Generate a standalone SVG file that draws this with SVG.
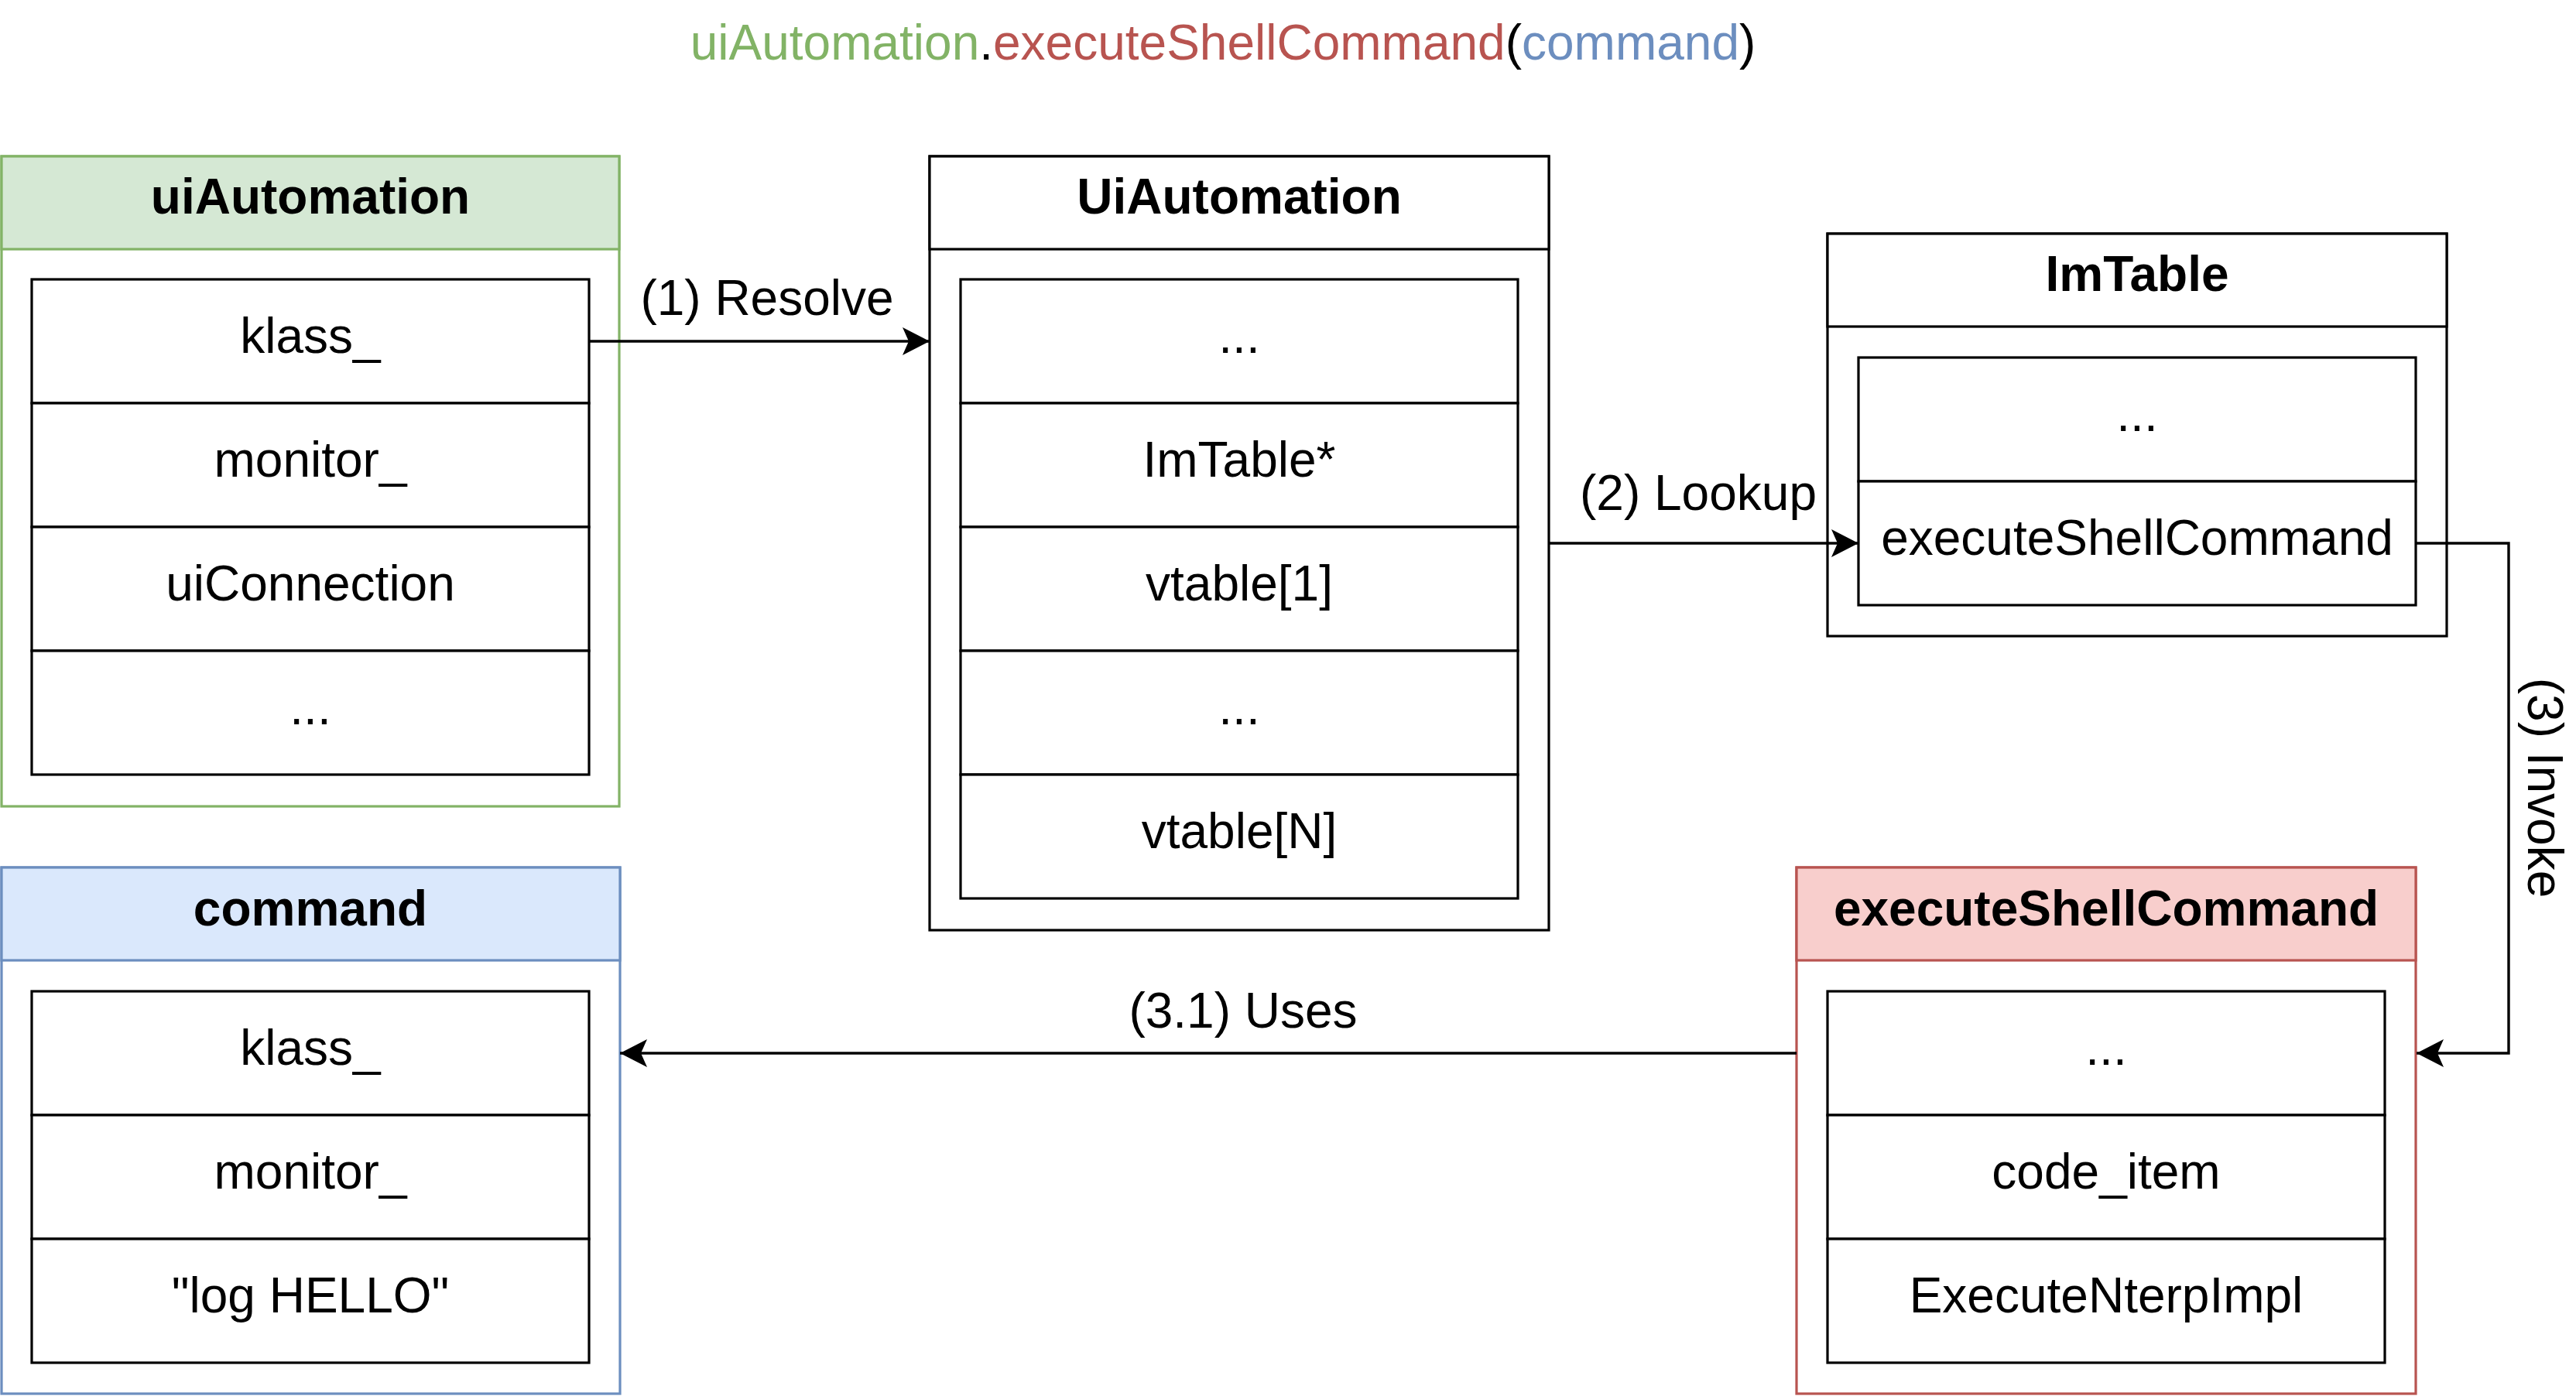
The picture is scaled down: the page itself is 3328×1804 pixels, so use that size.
<svg xmlns="http://www.w3.org/2000/svg" width="3328" height="1804" viewBox="0 0 3328 1804">
<defs>
<style>
text{font-family:"Liberation Sans",Arial,Helvetica,sans-serif;font-size:64px;fill:#000}
.t{text-anchor:middle}
.b{font-weight:bold}
.row{fill:#fff;stroke:#000;stroke-width:3.2}
.box{fill:#fff;stroke:#000;stroke-width:3.2}
.gh{fill:#d5e8d4;stroke:#82b366;stroke-width:3.2}
.gb{fill:#fff;stroke:#82b366;stroke-width:3.2}
.bh{fill:#dae8fc;stroke:#6c8ebf;stroke-width:3.2}
.bb{fill:#fff;stroke:#6c8ebf;stroke-width:3.2}
.rh{fill:#f8cecc;stroke:#b85450;stroke-width:3.2}
.rb{fill:#fff;stroke:#b85450;stroke-width:3.2}
.edge{fill:none;stroke:#000;stroke-width:3.4;marker-end:url(#arr)}
</style>
<marker id="arr" markerUnits="userSpaceOnUse" markerWidth="40" markerHeight="40" viewBox="-38 -20 40 40" refX="0" refY="0" orient="auto">
<path d="M0,0 L-35,-18 L-27,0 L-35,18 Z" fill="#000"/>
</marker>
</defs>
<rect width="3328" height="1804" fill="#fff"/>

<g id="title">
<text class="t" x="1580" y="77"><tspan fill="#82b366">uiAutomation</tspan><tspan>.</tspan><tspan fill="#b85450">executeShellCommand</tspan><tspan>(</tspan><tspan fill="#6c8ebf">command</tspan><tspan>)</tspan></text>
</g>

<g id="node-uiAutomation">
<rect class="gb" x="2" y="202" width="798" height="840"/>
<rect class="gh" x="2" y="202" width="798" height="120"/>
<text class="t b" x="401" y="276">uiAutomation</text>
<rect class="row" x="41" y="361" width="720" height="160"/>
<rect class="row" x="41" y="521" width="720" height="160"/>
<rect class="row" x="41" y="681" width="720" height="160"/>
<rect class="row" x="41" y="841" width="720" height="160"/>
<text class="t" x="401" y="456">klass_</text>
<text class="t" x="401" y="616">monitor_</text>
<text class="t" x="401" y="776">uiConnection</text>
<text class="t" x="401" y="936">...</text>
</g>

<g id="node-UiAutomation">
<rect class="box" x="1201" y="202" width="800" height="1000"/>
<rect class="box" x="1201" y="202" width="800" height="120"/>
<text class="t b" x="1601" y="276">UiAutomation</text>
<rect class="row" x="1241" y="361" width="720" height="160"/>
<rect class="row" x="1241" y="521" width="720" height="160"/>
<rect class="row" x="1241" y="681" width="720" height="160"/>
<rect class="row" x="1241" y="841" width="720" height="160"/>
<rect class="row" x="1241" y="1001" width="720" height="160"/>
<text class="t" x="1601" y="456">...</text>
<text class="t" x="1601" y="616">ImTable*</text>
<text class="t" x="1601" y="776">vtable[1]</text>
<text class="t" x="1601" y="936">...</text>
<text class="t" x="1601" y="1096">vtable[N]</text>
</g>

<g id="node-ImTable">
<rect class="box" x="2361" y="302" width="800" height="520"/>
<rect class="box" x="2361" y="302" width="800" height="120"/>
<text class="t b" x="2761" y="376">ImTable</text>
<rect class="row" x="2401" y="462" width="720" height="160"/>
<rect class="row" x="2401" y="622" width="720" height="160"/>
<text class="t" x="2761" y="557">...</text>
<text class="t" x="2761" y="717">executeShellCommand</text>
</g>

<g id="node-command">
<rect class="bb" x="2" y="1121" width="799" height="680"/>
<rect class="bh" x="2" y="1121" width="799" height="120"/>
<text class="t b" x="401" y="1196">command</text>
<rect class="row" x="41" y="1281" width="720" height="160"/>
<rect class="row" x="41" y="1441" width="720" height="160"/>
<rect class="row" x="41" y="1601" width="720" height="160"/>
<text class="t" x="401" y="1376">klass_</text>
<text class="t" x="401" y="1536">monitor_</text>
<text class="t" x="401" y="1696">"log HELLO"</text>
</g>

<g id="node-executeShellCommand">
<rect class="rb" x="2321" y="1121" width="800" height="680"/>
<rect class="rh" x="2321" y="1121" width="800" height="120"/>
<text class="t b" x="2721" y="1196">executeShellCommand</text>
<rect class="row" x="2361" y="1281" width="720" height="160"/>
<rect class="row" x="2361" y="1441" width="720" height="160"/>
<rect class="row" x="2361" y="1601" width="720" height="160"/>
<text class="t" x="2721" y="1376">...</text>
<text class="t" x="2721" y="1536">code_item</text>
<text class="t" x="2721" y="1696">ExecuteNterpImpl</text>
</g>

<g id="connectors">
<path class="edge" d="M762,441 H1201"/>
<path class="edge" d="M2001,702 H2401"/>
<path class="edge" d="M3121,702 H3241 V1361 H3122"/>
<path class="edge" d="M2321,1361 H801"/>
<text class="t" x="991" y="407">(1) Resolve</text>
<text class="t" x="2194" y="659">(2) Lookup</text>
<text class="t" transform="translate(3266,1018) rotate(90)" x="0" y="0">(3) Invoke</text>
<text class="t" x="1606" y="1328">(3.1) Uses</text>
</g>
</svg>
